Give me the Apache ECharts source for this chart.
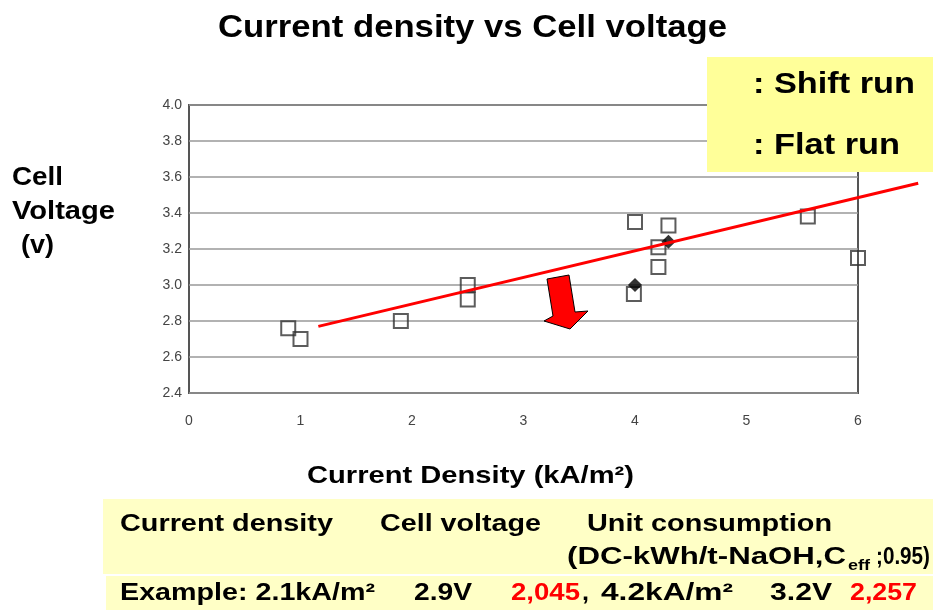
<!DOCTYPE html>
<html><head><meta charset="utf-8">
<script src="https://cdn.jsdelivr.net/npm/echarts@6/dist/echarts.min.js"></script>
<style>html,body{margin:0;padding:0;background:#fff}#c{width:933px;height:610px}</style>
</head><body><div id="c"></div>
<script>
// ---- data ----
const xTickValues = [0, 1, 2, 3, 4, 5, 6];
const yTickValues = [2.4, 2.6, 2.8, 3.0, 3.2, 3.4, 3.6, 3.8, 4.0];
const shiftRunX = [0.89, 1.00, 1.90, 2.50, 2.50, 4.00, 3.99, 4.21, 4.21, 4.30, 5.55, 6.00];
const shiftRunY = [2.76, 2.70, 2.80, 3.00, 2.92, 3.35, 2.95, 3.21, 3.10, 3.33, 3.38, 3.15];
const flatRunX = [4.00, 4.30];
const flatRunY = [3.00, 3.24];
const trendX = [1.16, 6.54];
const trendY = [2.77, 3.565];

const titleText = 'Current density vs Cell voltage';
const legendNames = [': Shift run', ': Flat run'];
const yNameLines = ['Cell', 'Voltage', '(v)'];
const xNameText = 'Current Density (kA/m\u00b2)';

const zip = (a, b) => a.map((v, i) => [v, b[i]]);

const measCtx = document.createElement('canvas').getContext('2d');
const FAM = '"Liberation Sans", Arial, sans-serif';
function fitText(text, left, right, cy, size, color) {
  const font = 'bold ' + size + 'px ' + FAM;
  measCtx.font = font;
  const w = measCtx.measureText(text).width;
  return {
    type: 'text', x: left, y: cy, scaleX: (right - left) / w, z: 200,
    style: { text: text, font: font, fill: color || '#000', textAlign: 'left',
      verticalAlign: 'middle', textVerticalAlign: 'middle' }
  };
}

const chart = echarts.init(document.getElementById('c'));
const graphics = [
  { type: 'rect', shape: { x: 707, y: 57, width: 226, height: 115 }, style: { fill: '#ffff99' }, z: 150 },
  { type: 'rect', shape: { x: 103, y: 499, width: 830, height: 75 }, style: { fill: '#ffffc6' }, z: 150 },
  { type: 'rect', shape: { x: 106, y: 576, width: 827, height: 34 }, style: { fill: '#ffffc6' }, z: 150 },
  { type: 'polygon', z: 120,
    shape: { points: [[547, 279], [569, 275], [575, 312], [588, 311], [570, 329], [544, 321], [553, 316]] },
    style: { fill: '#ff0000', stroke: '#000', lineWidth: 1 } },
  fitText(titleText, 218, 727, 28, 31),
  fitText(legendNames[0], 753, 915, 85, 30),
  fitText(legendNames[1], 753, 900, 146, 30),
  fitText(yNameLines[0], 12, 63, 178, 26),
  fitText(yNameLines[1], 12, 115, 212, 26),
  fitText(yNameLines[2], 21, 54, 246, 26),
  fitText(xNameText, 307, 634, 476, 24),
  fitText('Current density', 120, 333, 524, 24),
  fitText('Cell voltage', 380, 541, 524, 24),
  fitText('Unit consumption', 587, 832, 524, 24),
  fitText('(DC-kWh/t-NaOH,C', 567, 846, 557, 24),
  fitText('eff', 848, 870, 566, 15),
  fitText(';0.95)', 876, 930, 557, 24),
  fitText('Example: 2.1kA/m\u00b2', 120, 375, 593, 24),
  fitText('2.9V', 414, 472, 593, 24),
  fitText('2,045', 511, 580, 593, 24, '#ff0000'),
  fitText(',', 582, 589, 593, 24),
  fitText('4.2kA/m\u00b2', 601, 733, 593, 24),
  fitText('3.2V', 770, 832, 593, 24),
  fitText('2,257', 850, 917, 593, 24, '#ff0000')
];

chart.setOption({
  animation: false,
  backgroundColor: '#fff',
  grid: { left: 189, right: 75, top: 105, bottom: 217, show: true,
    borderColor: '#555', borderWidth: 2, backgroundColor: 'transparent' },
  xAxis: {
    type: 'value', min: 0, max: 6, interval: 1,
    axisLine: { show: false }, axisTick: { show: false }, splitLine: { show: false },
    axisLabel: { margin: 21, fontSize: 14, color: '#444', fontFamily: FAM,
      customValues: xTickValues, formatter: v => String(v) }
  },
  yAxis: {
    type: 'value', min: 2.4, max: 4.0, interval: 0.2,
    axisLine: { show: false }, axisTick: { show: false },
    splitLine: { show: true, lineStyle: { color: '#999', width: 1.5 } },
    axisLabel: { margin: 7, fontSize: 14, color: '#444', fontFamily: FAM,
      formatter: v => Number(v).toFixed(1) }
  },
  series: [
    { name: 'Shift run', type: 'scatter', data: zip(shiftRunX, shiftRunY),
      symbol: 'rect', symbolSize: 14, z: 3,
      itemStyle: { color: 'rgba(255,255,255,0)', borderColor: '#333', borderWidth: 2 } },
    { name: 'Flat run', type: 'scatter', data: zip(flatRunX, flatRunY),
      symbol: 'rect', symbolRotate: 45, symbolSize: 10, z: 4,
      itemStyle: { color: '#000' } }
  ],
  graphic: graphics
});

// trend line drawn through the chart's own scales (extends past the plot edge, unclipped)
const trendPts = zip(trendX, trendY).map(p => chart.convertToPixel({ gridIndex: 0 }, p));
chart.setOption({
  graphic: graphics.concat([{ type: 'polyline', z: 110, shape: { points: trendPts },
    style: { stroke: '#ff0000', lineWidth: 3, fill: null } }])
});
</script>
</body></html>
